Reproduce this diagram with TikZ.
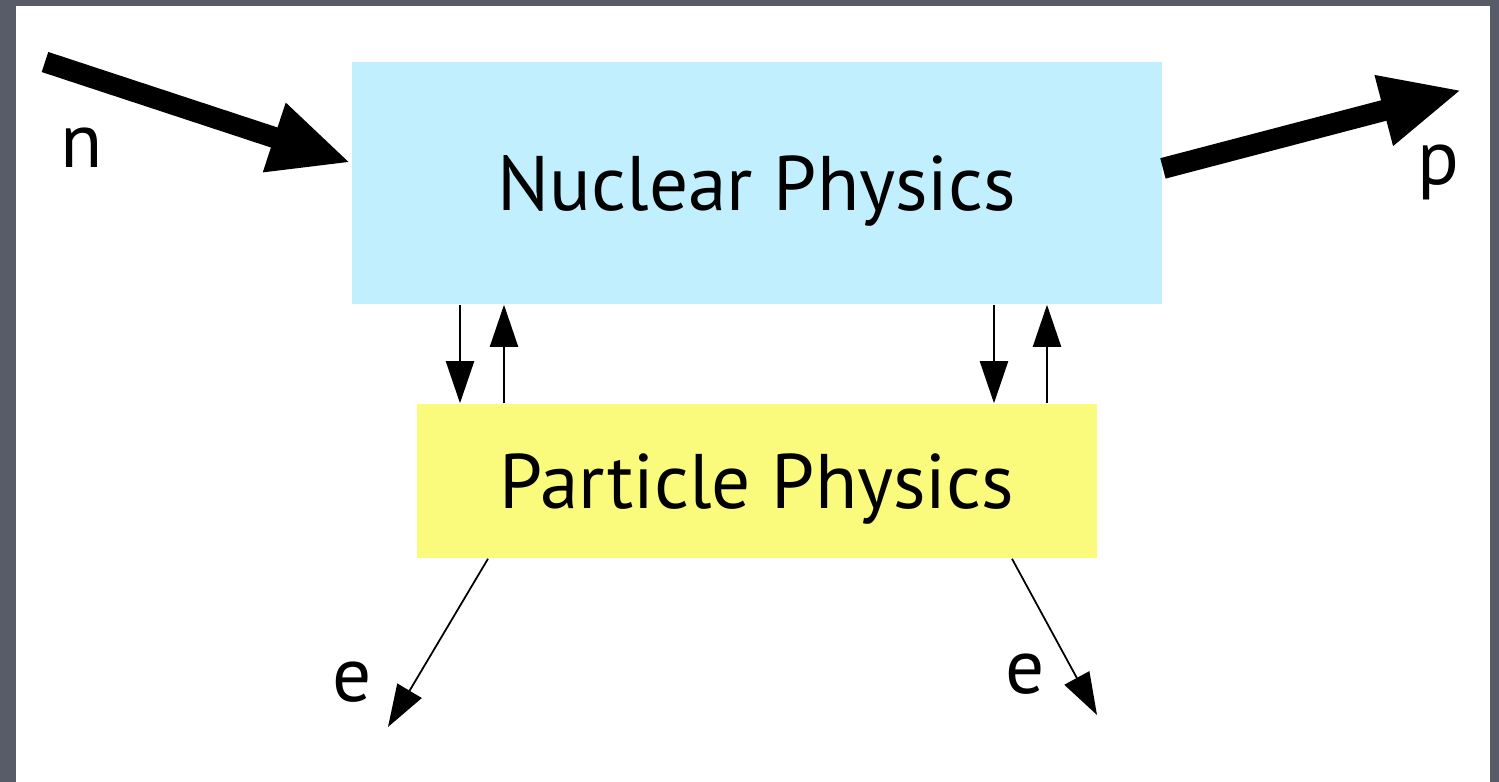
\documentclass[tikz,border=0pt]{standalone}
\usepackage{fontspec}
\setmainfont{PT Sans}
\usepackage{xcolor}
\usepackage{tikz}
\usetikzlibrary{arrows.meta,positioning,calc}
\definecolor{nucblue}{RGB}{194,239,253}
\definecolor{partyellow}{RGB}{250,250,125}
\definecolor{slate}{RGB}{88,92,104}
\tikzstyle{bigarrow} = [line width=6pt,-{Triangle[length=23pt,width=19pt]}]
\tikzstyle{smallarrow} = [line width=0.6pt,-{Triangle[length=12pt,width=8pt]}]

\begin{document}
\begin{tikzpicture}[x=0.01cm, y=-0.01cm,
    box/.style={rectangle, inner sep=0pt, text depth=0pt, font=\fontsize{22}{27}\selectfont},
    lbl/.style={anchor=base, font=\fontsize{22}{27}\selectfont}]

    % Frame
    \fill[slate] (0,0) rectangle (1499,782);
    \fill[white] (16,6) rectangle (1490,782);

    % Boxes
    \node[box, fill=nucblue, minimum width=8.1cm, minimum height=2.42cm] (nuc) at (757,183) {Nuclear Physics};
    \node[box, fill=partyellow, minimum width=6.8cm, minimum height=1.54cm] (part) at (757,481) {Particle Physics};

    % Free ends
    \coordinate (nstart) at (45,62);
    \coordinate (pend) at (1462,90);
    \coordinate (eleft) at (388,727);
    \coordinate (eright) at (1097,715);

    % Labels
    \node[lbl] (nlbl) at (82,168) {n};
    \node[lbl] (plbl) at (1438,185) {p};
    \node[lbl] (elbl1) at (352,702) {e};
    \node[lbl] (elbl2) at (1025,693) {e};

    % Transitions
    \draw[bigarrow] (nstart) -- ($(nuc.north west)!0.417!(nuc.south west)$);
    \draw[bigarrow] ($(nuc.north east)!0.44!(nuc.south east)$) -- (pend);
    \foreach \x/\name in {460/da, 994/db} {
        \coordinate (\name) at (\x,0);
        \draw[smallarrow] (nuc.south -| \name) -- (part.north -| \name);
    }
    \foreach \x/\name in {504/ua, 1047/ub} {
        \coordinate (\name) at (\x,0);
        \draw[smallarrow] (part.north -| \name) -- (nuc.south -| \name);
    }
    \coordinate (ea) at (488,0);
    \coordinate (eb) at (1012,0);
    \draw[smallarrow, line width=0.5pt] (part.south -| ea) -- (eleft);
    \draw[smallarrow, line width=0.5pt] (part.south -| eb) -- (eright);
\end{tikzpicture}
\end{document}
